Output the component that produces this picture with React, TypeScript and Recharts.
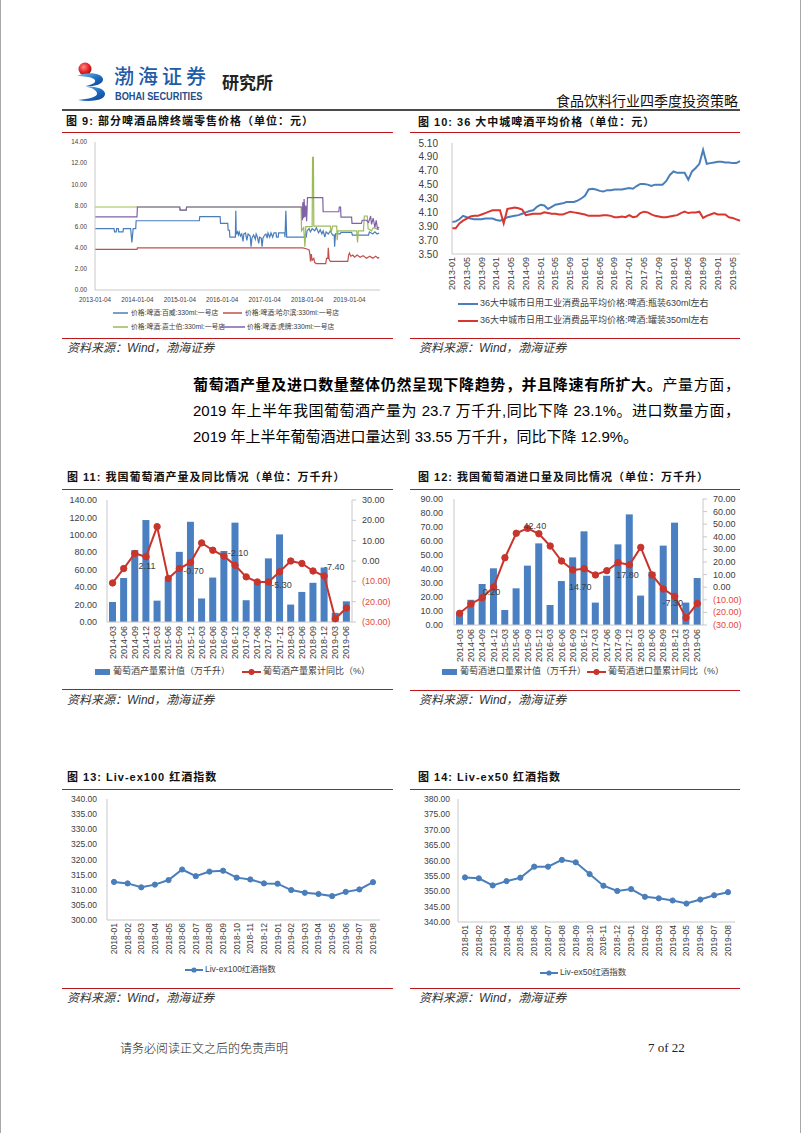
import React from 'react';
import { LineChart, Line, XAxis, YAxis, ComposedChart, Bar } from 'recharts';

const NUM = '"Liberation Sans", Arial, sans-serif';
const CJK = '"Liberation Sans", "Noto Sans CJK SC", sans-serif';
const AXIS = '#c8c8c8';
const TXT = '#404040';
const RULE_RED = '#c0161b';

// ---------------- Figure 9: beer retail prices ----------------
const beerTickYears = [2013, 2014, 2015, 2016, 2017, 2018, 2019];
const beerTickLabels = ['2013-01-04', '2014-01-04', '2015-01-04', '2016-01-04', '2017-01-04', '2018-01-04', '2019-01-04'];
const beerPriceTicks = [0, 2, 4, 6, 8, 10, 12, 14];
const beerSeriesNames = ['价格:啤酒:百威:330ml:一号店', '价格:啤酒:哈尔滨:330ml:一号店', '价格:啤酒:嘉士伯:330ml:一号店', '价格:啤酒:虎牌:330ml:一号店'];

const budweiser: [number, number][] = [
  [2013.0, 5.8], [2013.45, 5.8], [2013.46, 5.5], [2013.5, 5.5], [2013.51, 5.8], [2013.55, 5.8], [2013.56, 5.5], [2013.66, 5.5], [2013.67, 5.8],
  [2013.84, 5.8], [2013.87, 4.5], [2013.9, 5.8], [2013.96, 5.8], [2013.97, 6.55], [2015.46, 6.55], [2015.47, 6.95], [2015.95, 6.95], [2015.96, 6.3],
  [2016.13, 6.3], [2016.14, 5.65], [2016.17, 5.65], [2016.18, 5.0], [2016.31, 5.0], [2016.32, 7.5], [2016.33, 5.3], [2016.36, 5.5], [2016.38, 5.2],
  [2016.4, 5.5], [2016.43, 5.1], [2016.46, 5.3], [2016.49, 4.6], [2016.51, 5.3], [2016.55, 5.4], [2016.58, 4.7], [2016.61, 5.3], [2016.66, 5.1],
  [2016.68, 4.1], [2016.7, 4.9], [2016.74, 5.2], [2016.78, 4.8], [2016.8, 5.3], [2016.83, 5.0], [2016.86, 4.4], [2016.88, 5.0], [2016.92, 4.9],
  [2016.94, 4.1], [2016.96, 4.9], [2017.0, 5.2], [2017.03, 5.3], [2017.06, 4.9], [2017.08, 5.4], [2017.12, 5.0], [2017.15, 5.4], [2017.19, 5.0],
  [2017.22, 5.4], [2017.27, 5.4], [2017.28, 5.0], [2017.32, 5.0], [2017.33, 5.4], [2017.47, 5.4], [2017.48, 5.0], [2017.5, 7.5], [2017.52, 5.0],
  [2017.98, 5.0], [2018.0, 5.6], [2018.05, 5.8], [2018.08, 5.5], [2018.12, 5.8], [2018.18, 5.6], [2018.22, 5.9], [2018.27, 5.4], [2018.31, 5.7],
  [2018.35, 5.3], [2018.38, 5.6], [2018.42, 5.0], [2018.45, 5.5], [2018.5, 5.3], [2018.55, 5.6], [2018.6, 5.2], [2018.64, 5.2], [2018.65, 4.1],
  [2018.67, 5.3], [2018.78, 5.3], [2018.8, 5.45], [2019.05, 5.45], [2019.07, 5.2], [2019.45, 5.2], [2019.47, 5.5], [2019.55, 5.3], [2019.6, 5.5],
  [2019.65, 5.3], [2019.7, 5.4],
];
const harbin: [number, number][] = [
  [2013.0, 3.85], [2013.99, 3.85], [2014.0, 3.98], [2017.9, 3.98], [2017.98, 3.9], [2018.05, 3.8], [2018.07, 3.3], [2018.08, 2.7], [2018.1, 3.4],
  [2018.12, 2.8], [2018.16, 3.0], [2018.18, 2.6], [2018.22, 2.5], [2018.44, 2.5], [2018.46, 3.0], [2018.49, 3.0], [2018.5, 4.0], [2018.52, 2.9],
  [2018.55, 2.7], [2018.96, 2.7], [2018.98, 3.3], [2019.0, 3.5], [2019.03, 3.2], [2019.08, 3.3], [2019.12, 3.1], [2019.18, 3.3], [2019.25, 3.1],
  [2019.32, 3.25], [2019.4, 3.0], [2019.48, 3.2], [2019.55, 3.0], [2019.62, 3.2], [2019.67, 3.0], [2019.7, 3.1],
];
const carlsberg: [number, number][] = [
  [2013.0, 7.85], [2014.99, 7.85], [2015.0, 7.55], [2015.15, 7.55], [2015.16, 7.85], [2017.86, 7.85], [2017.87, 5.6], [2017.92, 5.9], [2017.95, 4.1],
  [2017.97, 6.0], [2018.12, 6.0], [2018.13, 12.55], [2018.15, 12.55], [2018.16, 6.05], [2018.55, 6.05], [2018.57, 5.4], [2018.6, 6.05], [2018.7, 6.05],
  [2018.71, 4.7], [2018.73, 5.6], [2019.17, 5.6], [2019.19, 4.5], [2019.21, 5.6], [2019.33, 5.6], [2019.35, 7.0], [2019.42, 7.0], [2019.44, 5.8],
  [2019.52, 5.6], [2019.56, 5.9], [2019.7, 5.7],
];
const tiger: [number, number][] = [
  [2013.0, 6.92], [2013.99, 6.92], [2014.0, 7.85], [2015.0, 7.85], [2015.01, 7.55], [2015.15, 7.55], [2015.16, 7.85], [2017.88, 7.85], [2017.89, 6.6],
  [2017.9, 8.3], [2017.92, 6.8], [2017.93, 8.6], [2017.95, 6.9], [2017.97, 8.0], [2017.99, 6.5], [2018.01, 8.74], [2018.37, 8.74], [2018.38, 7.4],
  [2018.75, 7.4], [2018.76, 7.85], [2018.79, 7.85], [2018.8, 6.9], [2019.05, 6.9], [2019.06, 6.3], [2019.28, 6.3], [2019.3, 6.6], [2019.4, 6.6],
  [2019.45, 6.4], [2019.5, 7.0], [2019.52, 6.2], [2019.56, 6.8], [2019.6, 5.9], [2019.63, 6.6], [2019.66, 5.8], [2019.7, 5.95],
];

// ---------------- Figure 10: 36-city average beer price ----------------
const cityMonths: string[] = [];
for (let y = 2013; y <= 2019; y++) {
  for (let m = 1; m <= 12; m++) {
    if (y === 2019 && m > 7) break;
    cityMonths.push(`${y}-${String(m).padStart(2, '0')}`);
  }
}
const bottled630 = [
  3.96, 3.97, 4.0, 4.05, 4.03, 4.01, 4.0, 4.0, 4.0, 4.01, 4.01, 4.01,
  3.99, 3.98, 4.0, 4.03, 4.04, 4.05, 4.06, 4.08, 4.1, 4.12, 4.13, 4.18,
  4.21, 4.2, 4.15, 4.18, 4.21, 4.22, 4.23, 4.25, 4.25, 4.25, 4.27, 4.3,
  4.34, 4.43, 4.44, 4.43, 4.41, 4.4, 4.42, 4.42, 4.43, 4.43, 4.43, 4.44,
  4.45, 4.44, 4.48, 4.51, 4.51, 4.5, 4.48, 4.5, 4.5, 4.5, 4.55, 4.64,
  4.69, 4.67, 4.67, 4.67, 4.57, 4.69, 4.74, 4.8, 5.0, 4.8, 4.81, 4.82,
  4.83, 4.83, 4.82, 4.82, 4.81, 4.81, 4.84,
];
const canned350 = [
  3.87, 3.87, 3.94, 3.98, 4.01, 4.04, 4.05, 4.05, 4.07, 4.09, 4.11, 4.13,
  4.13, 4.13, 3.94, 4.15, 4.16, 4.17, 4.16, 4.14, 4.06, 4.07, 4.08, 4.08,
  4.08, 4.1, 4.09, 4.08, 4.08, 4.07, 4.07, 4.09, 4.11, 4.1, 4.09, 4.08,
  4.07, 4.05, 4.05, 4.05, 4.05, 4.06, 4.06, 4.05, 4.03, 4.03, 4.04, 4.03,
  4.06, 4.03, 4.04, 4.09, 4.11, 4.1, 4.07, 4.05, 4.04, 4.03, 4.03, 4.04,
  4.05, 4.06, 4.09, 4.11, 4.09, 4.1, 4.1, 4.11, 4.02, 4.05, 4.07, 4.09,
  4.07, 4.07, 4.07, 4.03, 4.02, 4.0, 3.98,
];
const cityTicks = [3.5, 3.7, 3.9, 4.1, 4.3, 4.5, 4.7, 4.9, 5.1];
const cityNames = ['36大中城市日用工业消费品平均价格:啤酒:瓶装630ml左右', '36大中城市日用工业消费品平均价格:啤酒:罐装350ml左右'];

// ---------------- Figures 11 & 12: wine output / imports ----------------
const wineQuarters = [
  '2014-03', '2014-06', '2014-09', '2014-12', '2015-03', '2015-06', '2015-09', '2015-12', '2016-03', '2016-06', '2016-09',
  '2016-12', '2017-03', '2017-06', '2017-09', '2017-12', '2018-03', '2018-06', '2018-09', '2018-12', '2019-03', '2019-06',
];
const wineOutput = [23, 50.5, 82.5, 117, 24.5, 48, 80.5, 115, 27, 51, 81.5, 114, 25, 45, 73, 100.5, 20, 34.5, 45, 62.5, 10.5, 23.7];
const wineOutputYoy = [-10.8, -3.7, 3.7, 2.11, 16.9, -8.6, -3.7, -0.7, 8.9, 5.3, 2.4, -2.1, -7.8, -10.3, -10.3, -5.3, 0.0, -1.2, -4.9, -7.4, -28.4, -23.1];
const wineOutputLabels = [null, null, null, '2.11', null, null, null, '-0.70', null, null, null, '-2.10', null, null, null, '-5.30', null, null, null, '-7.40', null, null];
const wineImport = [9, 18, 29.3, 40.5, 10.7, 26.2, 42.4, 58.3, 14.3, 31.4, 48.3, 66.9, 16, 35.2, 57.6, 79, 21, 38, 56.7, 73.1, 16, 33.55];
const wineImportYoy = [-20.7, -13.3, -8.3, 0.2, 23.4, 42.8, 46.7, 42.4, 32.7, 20.8, 13.7, 14.7, 9.7, 13.1, 19.5, 17.8, 31.6, 9.7, -1.4, -7.3, -24.2, -12.9];
const wineImportLabels = [null, null, null, '0.20', null, null, null, '42.40', null, null, null, '14.70', null, null, null, '17.80', null, null, null, '-7.30', null, null];
const outputLeftTicks = [0, 20, 40, 60, 80, 100, 120, 140];
const outputRightTicks = [-30, -20, -10, 0, 10, 20, 30];
const importLeftTicks = [0, 10, 20, 30, 40, 50, 60, 70, 80, 90];
const importRightTicks = [-30, -20, -10, 0, 10, 20, 30, 40, 50, 60, 70];

// ---------------- Figures 13 & 14: Liv-ex indices ----------------
const livMonths = [
  '2018-01', '2018-02', '2018-03', '2018-04', '2018-05', '2018-06', '2018-07', '2018-08', '2018-09', '2018-10',
  '2018-11', '2018-12', '2019-01', '2019-02', '2019-03', '2019-04', '2019-05', '2019-06', '2019-07', '2019-08',
];
const livex100 = [312.6, 312.1, 310.8, 311.7, 313.2, 316.7, 314.5, 316.0, 316.3, 314.0, 313.4, 312.1, 312.0, 309.9, 309.0, 308.6, 307.9, 309.3, 310.1, 312.5];
const livex50 = [354.5, 354.2, 351.9, 353.3, 354.4, 358.0, 358.0, 360.2, 359.4, 355.6, 351.8, 350.1, 350.7, 348.2, 347.7, 347.0, 346.0, 347.3, 348.7, 349.7];
const liv100Ticks = [300, 305, 310, 315, 320, 325, 330, 335, 340];
const liv50Ticks = [340, 345, 350, 355, 360, 365, 370, 375, 380];

// ---------------- derived tables ----------------
const toPts = (a: [number, number][]) => a.map(([t, v]) => ({ t, v }));
const cityRows = cityMonths.map((m, i) => ({ m, bottle: bottled630[i], can: canned350[i] }));
const outputRows = wineQuarters.map((q, i) => ({ q, val: wineOutput[i], yoy: wineOutputYoy[i] }));
const importRows = wineQuarters.map((q, i) => ({ q, val: wineImport[i], yoy: wineImportYoy[i] }));
const liv100Rows = livMonths.map((m, i) => ({ m, v: livex100[i] }));
const liv50Rows = livMonths.map((m, i) => ({ m, v: livex50[i] }));

// colours
const C9 = ['#4a7ebb', '#c0504d', '#9bbb59', '#7f62a8'];
const BLUE = '#4a7ebb';
const RED10 = '#d7372f';
const BAR = '#4a7fc1';
const REDL = '#c8352c';
const NEG = '#e8453c';

const RotTick = (props: any) => {
  const { x, y, payload, fs } = props;
  return (
    <text x={x} y={y} transform={`rotate(-90, ${x}, ${y})`} textAnchor="end" dominantBaseline="central" fontSize={fs} fill={TXT} fontFamily={NUM}>
      {payload.value}
    </text>
  );
};

const RightTick = (props: any) => {
  const { x, y, payload } = props;
  const v = payload.value as number;
  const neg = v < 0;
  return (
    <text x={x} y={y} textAnchor="start" dominantBaseline="central" fontSize={9} fill={neg ? NEG : TXT} fontFamily={NUM}>
      {neg ? `(${Math.abs(v).toFixed(2)})` : v.toFixed(2)}
    </text>
  );
};

const makeDot = (labels: (string | null)[], offs: Record<number, [number, number]>, color: string, r: number) => (p: any) => {
  const { cx, cy, index } = p;
  const lab = labels[index];
  const o = offs[index];
  return (
    <g key={`d${index}`}>
      <circle cx={cx} cy={cy} r={r} fill={color} stroke={color} strokeWidth={1} />
      {lab && o ? (
        <text x={cx + o[0]} y={cy + o[1]} textAnchor="middle" dominantBaseline="central" fontSize={9} fill={TXT} fontFamily={NUM}>
          {lab}
        </text>
      ) : null}
    </g>
  );
};

const outputLabelOffsets: Record<number, [number, number]> = { 3: [1, 9], 7: [3, 9], 11: [3, -12], 15: [2, 13], 19: [10, -9] };
const importLabelOffsets: Record<number, [number, number]> = { 3: [-2, 5], 7: [-4, -8], 11: [-4, 18], 15: [-2, 10], 19: [-2, 7] };

const abs = (left: number, top: number, extra: React.CSSProperties = {}): React.CSSProperties => ({
  position: 'absolute', left, top, whiteSpace: 'nowrap', ...extra,
});

const Title = ({ x, y, text }: { x: number; y: number; text: string }) => (
  <div style={abs(x, y - 7, { fontSize: 11, lineHeight: '14px', fontWeight: 700, letterSpacing: 1, fontFamily: CJK, color: '#111' })}>{text}</div>
);
const Source = ({ x, y }: { x: number; y: number }) => (
  <div style={abs(x, y - 8, { fontSize: 12, lineHeight: '16px', fontStyle: 'italic', fontFamily: CJK, color: '#333' })}>资料来源：Wind，渤海证券</div>
);
const RedRule = ({ x, y, w }: { x: number; y: number; w: number }) => (
  <div style={abs(x, y, { width: w, height: 1, background: RULE_RED })} />
);
const LegLine = ({ x, y, w, color, dot, sw = 2 }: { x: number; y: number; w: number; color: string; dot?: number; sw?: number }) => (
  <svg style={abs(x, y - 5)} width={w} height={10}>
    <line x1={0} y1={5} x2={w} y2={5} stroke={color} strokeWidth={sw} />
    {dot ? <circle cx={w / 2} cy={5} r={dot} fill={color} /> : null}
  </svg>
);
const LegText = ({ x, y, fs, text }: { x: number; y: number; fs: number; text: string }) => (
  <div style={abs(x, y - fs * 0.65, { fontSize: fs, lineHeight: `${fs * 1.3}px`, fontFamily: CJK, color: '#404040' })}>{text}</div>
);

const Logo = () => (
  <svg style={abs(75, 61)} width={32} height={42} viewBox="0 0 32 42">
    <defs>
      <radialGradient id="rb" cx="40%" cy="35%" r="65%">
        <stop offset="0%" stopColor="#ff8a80" />
        <stop offset="60%" stopColor="#e5252a" />
        <stop offset="100%" stopColor="#a50d12" />
      </radialGradient>
      <linearGradient id="bl" x1="0" y1="0" x2="1" y2="1">
        <stop offset="0%" stopColor="#7fc4f0" />
        <stop offset="55%" stopColor="#1d6fc2" />
        <stop offset="100%" stopColor="#123d86" />
      </linearGradient>
    </defs>
    <circle cx={10} cy={8} r={6.5} fill="url(#rb)" />
    <path d="M2 15 C 12 10, 29 12, 28 19 C 27 24, 17 26, 11 25 C 19 23, 22 21, 19 18 C 15 15.5, 8 15.5, 2 15 Z" fill="url(#bl)" />
    <path d="M10 25.5 C 21 25, 31 28, 30 33.5 C 29 40, 14 41, 3 39 C 13 38, 23 36, 22 32 C 21 28.5, 16 26.5, 10 25.5 Z" fill="url(#bl)" />
  </svg>
);

export default function App() {
  const paraFont = '"Liberation Sans", "Noto Sans CJK SC", sans-serif';
  return (
    <div style={{ position: 'absolute', left: 0, top: 0, width: 802, height: 1133, background: '#fff', overflow: 'hidden', fontFamily: CJK, color: '#000' }}>
      <div style={abs(0, 0, { width: 1, height: 1133, background: '#a8a8a8' })} />
      <div style={abs(800, 0, { width: 1, height: 1133, background: '#a8a8a8' })} />

      {/* header */}
      <Logo />
      <div style={abs(114, 66, { fontSize: 20, lineHeight: '20px', letterSpacing: 4, color: '#1e5ba8', fontFamily: '"Noto Sans CJK SC", sans-serif', fontWeight: 500 })}>渤海证券</div>
      <div style={abs(115, 92, { fontSize: 10, lineHeight: '10px', fontWeight: 700, color: '#244e8c', fontFamily: NUM, transform: 'scaleX(0.92)', transformOrigin: 'left top' })}>BOHAI SECURITIES</div>
      <div style={abs(222, 72, { fontSize: 17, lineHeight: '20px', fontWeight: 700, color: '#222', fontFamily: '"Noto Sans CJK SC", sans-serif' })}>研究所</div>
      <div style={{ position: 'absolute', right: 802 - 738, top: 91, fontSize: 14, lineHeight: '18px', color: '#111', fontFamily: '"Noto Sans CJK SC", sans-serif', whiteSpace: 'nowrap' }}>食品饮料行业四季度投资策略</div>
      <div style={abs(62, 109, { width: 678, height: 2, background: '#4a4a4a' })} />

      {/* ===== Figure 9 ===== */}
      <Title x={66} y={121} text="图 9: 部分啤酒品牌终端零售价格（单位：元）" />
      <RedRule x={62} y={132} w={331} />
      <div style={abs(62, 136)}>
        <LineChart width={330} height={172} margin={{ top: 6, right: 12, bottom: 0, left: 0 }}>
          <XAxis
            type="number" dataKey="t" domain={[2013, 2019.72]} ticks={beerTickYears} allowDataOverflow interval={0}
            tickFormatter={(v: number) => beerTickLabels[beerTickYears.indexOf(v)]}
            height={18} axisLine={{ stroke: AXIS }} tickLine={false} tick={{ fontSize: 6.3, fill: TXT, fontFamily: NUM }}
          />
          <YAxis
            domain={[0, 14]} ticks={beerPriceTicks} interval={0} tickFormatter={(v: number) => v.toFixed(2)} width={33}
            axisLine={{ stroke: AXIS }} tickLine={false} tick={{ fontSize: 6.3, fill: TXT, fontFamily: NUM }}
          />
          <Line data={toPts(budweiser)} dataKey="v" type="linear" stroke={C9[0]} strokeWidth={1.2} dot={false} isAnimationActive={false} />
          <Line data={toPts(harbin)} dataKey="v" type="linear" stroke={C9[1]} strokeWidth={1.2} dot={false} isAnimationActive={false} />
          <Line data={toPts(carlsberg)} dataKey="v" type="linear" stroke={C9[2]} strokeWidth={1.2} dot={false} isAnimationActive={false} />
          <Line data={toPts(tiger)} dataKey="v" type="linear" stroke={C9[3]} strokeWidth={1.2} dot={false} isAnimationActive={false} />
        </LineChart>
      </div>
      <LegLine x={113} y={313} w={15} color={C9[0]} sw={1.5} />
      <LegText x={131} y={313} fs={6.8} text={beerSeriesNames[0]} />
      <LegLine x={223} y={313} w={19} color={C9[1]} sw={1.5} />
      <LegText x={245} y={313} fs={6.8} text={beerSeriesNames[1]} />
      <LegLine x={113} y={327} w={15} color={C9[2]} sw={1.5} />
      <LegText x={131} y={327} fs={6.8} text={beerSeriesNames[2]} />
      <LegLine x={220} y={327} w={25} color={C9[3]} sw={1.5} />
      <LegText x={247} y={327} fs={6.8} text={beerSeriesNames[3]} />
      <RedRule x={62} y={338} w={331} />
      <Source x={67} y={348} />

      {/* ===== Figure 10 ===== */}
      <Title x={418} y={122} text="图 10: 36 大中城啤酒平均价格（单位：元）" />
      <RedRule x={410} y={132} w={330} />
      <div style={abs(405, 133)}>
        <LineChart width={345} height={160} data={cityRows} margin={{ top: 10, right: 10, bottom: 0, left: 0 }}>
          <XAxis dataKey="m" interval={3} height={39} tickLine={false} tickSize={0} tickMargin={3} axisLine={{ stroke: AXIS }} tick={<RotTick fs={9} />} />
          <YAxis
            domain={[3.5, 5.1]} ticks={cityTicks} interval={0} tickFormatter={(v: number) => v.toFixed(2)} width={47}
            tickLine={false} tickMargin={8} axisLine={{ stroke: AXIS }} tick={{ fontSize: 10, fill: TXT, fontFamily: NUM }}
          />
          <Line dataKey="bottle" stroke={BLUE} strokeWidth={2} dot={false} isAnimationActive={false} />
          <Line dataKey="can" stroke={RED10} strokeWidth={2} dot={false} isAnimationActive={false} />
        </LineChart>
      </div>
      <LegLine x={458} y={304} w={20} color={BLUE} />
      <LegText x={480} y={304} fs={9} text={cityNames[0]} />
      <LegLine x={458} y={321} w={20} color={RED10} />
      <LegText x={480} y={321} fs={9} text={cityNames[1]} />
      <RedRule x={410} y={338} w={330} />
      <Source x={419} y={348} />

      {/* ===== paragraph ===== */}
      <div style={abs(193, 372, { width: 547, fontSize: 15, lineHeight: '26px', fontFamily: paraFont, textAlign: 'justify', textAlignLast: 'justify', whiteSpace: 'normal' })}>
        <b>葡萄酒产量及进口数量整体仍然呈现下降趋势，并且降速有所扩大。</b>产量方面，
      </div>
      <div style={abs(193, 398, { width: 547, fontSize: 15, lineHeight: '26px', fontFamily: paraFont, textAlign: 'justify', textAlignLast: 'justify', whiteSpace: 'normal' })}>
        2019 年上半年我国葡萄酒产量为 23.7 万千升,同比下降 23.1%。进口数量方面，
      </div>
      <div style={abs(193, 424, { fontSize: 15, lineHeight: '26px', fontFamily: paraFont })}>
        2019 年上半年葡萄酒进口量达到 33.55 万千升，同比下降 12.9%。
      </div>

      {/* ===== Figure 11 ===== */}
      <Title x={67} y={477} text="图 11: 我国葡萄酒产量及同比情况（单位：万千升）" />
      <RedRule x={62} y={489} w={331} />
      <div style={abs(62, 490)}>
        <ComposedChart width={330} height={172} data={outputRows} margin={{ top: 10, right: 0, bottom: 0, left: 0 }}>
          <XAxis dataKey="q" interval={0} height={40} tickLine={false} tickSize={0} tickMargin={4} axisLine={{ stroke: AXIS }} tick={<RotTick fs={9} />} />
          <YAxis
            yAxisId="l" domain={[0, 140]} ticks={outputLeftTicks} interval={0} tickFormatter={(v: number) => v.toFixed(2)} width={45}
            tickLine={false} tickMargin={4} axisLine={{ stroke: AXIS }} tick={{ fontSize: 9, fill: TXT, fontFamily: NUM }}
          />
          <YAxis
            yAxisId="r" orientation="right" domain={[-30, 30]} ticks={outputRightTicks} interval={0} width={40}
            tickSize={4} tickLine={{ stroke: AXIS }} tickMargin={6} axisLine={{ stroke: AXIS }} tick={<RightTick />}
          />
          <Bar yAxisId="l" dataKey="val" fill={BAR} barSize={7} isAnimationActive={false} />
          <Line
            yAxisId="r" dataKey="yoy" type="linear" stroke={REDL} strokeWidth={2} isAnimationActive={false}
            dot={makeDot(wineOutputLabels, outputLabelOffsets, REDL, 3.2)}
          />
        </ComposedChart>
      </div>
      <div style={abs(95, 669, { width: 15, height: 6, background: BAR })} />
      <LegText x={113} y={672} fs={9} text="葡萄酒产量累计值（万千升）" />
      <LegLine x={242} y={672} w={19} color={REDL} dot={3} />
      <LegText x={263} y={672} fs={9} text="葡萄酒产量累计同比（%）" />
      <RedRule x={62} y={689} w={331} />
      <Source x={67} y={700} />

      {/* ===== Figure 12 ===== */}
      <Title x={418} y={477} text="图 12: 我国葡萄酒进口量及同比情况（单位：万千升）" />
      <RedRule x={410} y={489} w={330} />
      <div style={abs(405, 489)}>
        <ComposedChart width={338} height={176} data={importRows} margin={{ top: 10, right: 0, bottom: 0, left: 0 }}>
          <XAxis dataKey="q" interval={0} height={40} tickLine={false} tickSize={0} tickMargin={4} axisLine={{ stroke: AXIS }} tick={<RotTick fs={9} />} />
          <YAxis
            yAxisId="l" domain={[0, 90]} ticks={importLeftTicks} interval={0} tickFormatter={(v: number) => v.toFixed(2)} width={49}
            tickLine={false} tickMargin={5} axisLine={{ stroke: AXIS }} tick={{ fontSize: 9, fill: TXT, fontFamily: NUM }}
          />
          <YAxis
            yAxisId="r" orientation="right" domain={[-30, 70]} ticks={importRightTicks} interval={0} width={40}
            tickSize={4} tickLine={{ stroke: AXIS }} tickMargin={6} axisLine={{ stroke: AXIS }} tick={<RightTick />}
          />
          <Bar yAxisId="l" dataKey="val" fill={BAR} barSize={7} isAnimationActive={false} />
          <Line
            yAxisId="r" dataKey="yoy" type="linear" stroke={REDL} strokeWidth={2} isAnimationActive={false}
            dot={makeDot(wineImportLabels, importLabelOffsets, REDL, 3.2)}
          />
        </ComposedChart>
      </div>
      <div style={abs(442, 669, { width: 15, height: 6, background: BAR })} />
      <LegText x={460} y={672} fs={9} text="葡萄酒进口量累计值（万千升）" />
      <LegLine x={587} y={672} w={19} color={REDL} dot={3} />
      <LegText x={608} y={672} fs={9} text="葡萄酒进口量累计同比（%）" />
      <RedRule x={410} y={690} w={330} />
      <Source x={419} y={700} />

      {/* ===== Figure 13 ===== */}
      <Title x={67} y={777} text="图 13: Liv-ex100 红酒指数" />
      <RedRule x={62} y={789} w={331} />
      <div style={abs(62, 789)}>
        <LineChart width={330} height={171} data={liv100Rows} margin={{ top: 10, right: 12, bottom: 0, left: 0 }}>
          <XAxis dataKey="m" interval={0} height={40} padding={{ left: 7, right: 7 }} tickLine={false} tickSize={0} tickMargin={3} axisLine={{ stroke: AXIS }} tick={<RotTick fs={8.5} />} />
          <YAxis
            domain={[300, 340]} ticks={liv100Ticks} interval={0} tickFormatter={(v: number) => v.toFixed(2)} width={45}
            tickLine={false} tickMargin={4} axisLine={{ stroke: AXIS }} tick={{ fontSize: 8.5, fill: TXT, fontFamily: NUM }}
          />
          <Line dataKey="v" type="linear" stroke={BLUE} strokeWidth={2} dot={{ r: 2.6, fill: BLUE, stroke: BLUE, strokeWidth: 1 }} isAnimationActive={false} />
        </LineChart>
      </div>
      <LegLine x={185} y={970} w={18} color={BLUE} dot={2.6} />
      <LegText x={205} y={970} fs={8.5} text="Liv-ex100红酒指数" />
      <RedRule x={62} y={988} w={331} />
      <Source x={67} y={998} />

      {/* ===== Figure 14 ===== */}
      <Title x={418} y={777} text="图 14: Liv-ex50 红酒指数" />
      <RedRule x={410} y={789} w={330} />
      <div style={abs(405, 789)}>
        <LineChart width={340} height={173} data={liv50Rows} margin={{ top: 10, right: 10, bottom: 0, left: 0 }}>
          <XAxis dataKey="m" interval={0} height={40} padding={{ left: 7, right: 7 }} tickLine={false} tickSize={0} tickMargin={3} axisLine={{ stroke: AXIS }} tick={<RotTick fs={8.5} />} />
          <YAxis
            domain={[340, 380]} ticks={liv50Ticks} interval={0} tickFormatter={(v: number) => v.toFixed(2)} width={53}
            tickLine={false} tickMargin={2} axisLine={{ stroke: AXIS }} tick={{ fontSize: 8.5, fill: TXT, fontFamily: NUM }}
          />
          <Line dataKey="v" type="linear" stroke={BLUE} strokeWidth={2} dot={{ r: 2.6, fill: BLUE, stroke: BLUE, strokeWidth: 1 }} isAnimationActive={false} />
        </LineChart>
      </div>
      <LegLine x={540} y={973} w={18} color={BLUE} dot={2.6} />
      <LegText x={560} y={973} fs={8.5} text="Liv-ex50红酒指数" />
      <RedRule x={410} y={988} w={330} />
      <Source x={419} y={998} />

      {/* footer */}
      <div style={abs(120, 1040, { fontSize: 12, lineHeight: '16px', color: '#222', fontFamily: '"Noto Sans CJK SC", sans-serif', fontWeight: 300 })}>请务必阅读正文之后的免责声明</div>
      <div style={abs(648, 1040, { fontSize: 13, lineHeight: '16px', color: '#222', fontFamily: '"Liberation Serif", serif' })}>7 of 22</div>
    </div>
  );
}
